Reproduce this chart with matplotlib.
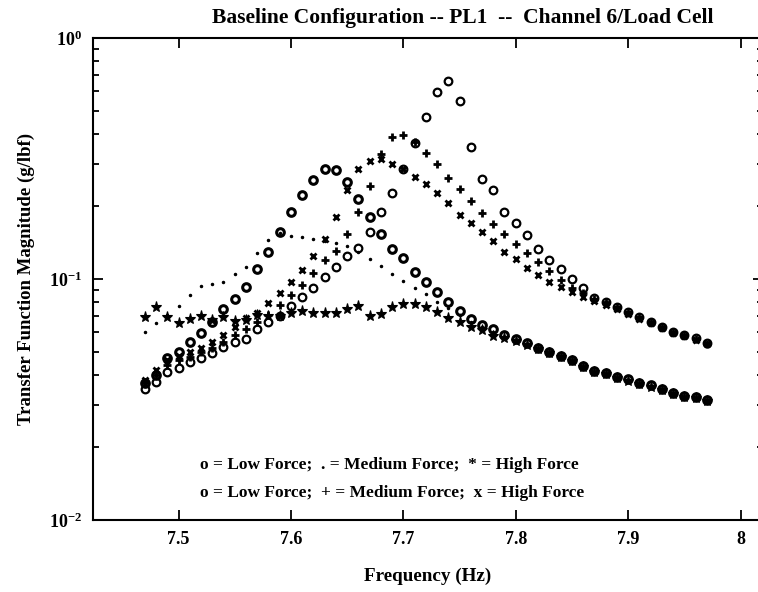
import matplotlib
matplotlib.use("Agg")
import matplotlib.pyplot as plt
from matplotlib.ticker import LogLocator, NullFormatter

plt.rcParams['font.family'] = ['Liberation Serif', 'DejaVu Serif']
plt.rcParams['mathtext.fontset'] = 'stix'

# frequency grid (Hz): one point every 0.01 Hz
freq = [7.47, 7.48, 7.49, 7.50, 7.51, 7.52, 7.53, 7.54, 7.55, 7.56,
        7.57, 7.58, 7.59, 7.60, 7.61, 7.62, 7.63, 7.64, 7.65, 7.66,
        7.67, 7.68, 7.69, 7.70, 7.71, 7.72, 7.73, 7.74, 7.75, 7.76,
        7.77, 7.78, 7.79, 7.80, 7.81, 7.82, 7.83, 7.84, 7.85, 7.86,
        7.87, 7.88, 7.89, 7.90, 7.91, 7.92, 7.93, 7.94, 7.95, 7.96, 7.97]

# first run:  o = low, . = medium, * = high
low_1 = [0.037, 0.040, 0.0469, 0.0499, 0.0546, 0.0599, 0.0665, 0.0749, 0.0826, 0.0929,
         0.1097, 0.1298, 0.157, 0.190, 0.223, 0.257, 0.286, 0.283, 0.253, 0.215,
         0.181, 0.154, 0.1336, 0.122, 0.107, 0.0968, 0.0881, 0.0805, 0.0738, 0.0682,
         0.0644, 0.0621, 0.0585, 0.0562, 0.054, 0.0518, 0.0497, 0.048, 0.046, 0.0436,
         0.0415, 0.0408, 0.0393, 0.0383, 0.0371, 0.0362, 0.035, 0.0338, 0.0327, 0.0323, 0.0316]
med_1 = [0.060, 0.0655, 0.071, 0.0773, 0.0859, 0.0935, 0.0953, 0.0975, 0.1047, 0.1125,
         0.1285, 0.145, 0.155, 0.151, 0.149, 0.147, 0.144, 0.141, 0.137, 0.129,
         0.121, 0.1133, 0.105, 0.0984, 0.092, 0.0864, 0.0805, 0.076, 0.071, 0.066,
         0.063, 0.060, 0.0575, 0.0555, 0.0535, 0.0514, 0.0493, 0.0477, 0.0456, 0.0431,
         0.0412, 0.0404, 0.039, 0.038, 0.0368, 0.0359, 0.0348, 0.0335, 0.0324, 0.0321, 0.0314]
high_1 = [0.0695, 0.0767, 0.0693, 0.0659, 0.068, 0.0702, 0.0676, 0.0695, 0.0671, 0.0676,
          0.071, 0.070, 0.070, 0.072, 0.0737, 0.0725, 0.0725, 0.0725, 0.0749, 0.0773,
          0.0702, 0.0713, 0.0763, 0.0787, 0.0787, 0.0767, 0.0731, 0.069, 0.0665, 0.0634,
          0.0614, 0.058, 0.057, 0.0553, 0.0533, 0.0512, 0.0492, 0.0476, 0.0455, 0.043,
          0.0411, 0.0402, 0.0389, 0.0379, 0.0367, 0.0358, 0.0347, 0.0334, 0.0323, 0.032, 0.0313]

# second run:  o = low, + = medium, x = high
low_2 = [0.035, 0.0375, 0.0412, 0.0426, 0.0454, 0.0469, 0.0492, 0.0524, 0.0546, 0.0564,
         0.0618, 0.0665, 0.070, 0.077, 0.0845, 0.092, 0.1016, 0.1125, 0.1245, 0.135,
         0.156, 0.189, 0.227, 0.285, 0.366, 0.471, 0.596, 0.660, 0.546, 0.352,
         0.260, 0.234, 0.190, 0.170, 0.152, 0.133, 0.120, 0.110, 0.100, 0.0915,
         0.0836, 0.0805, 0.0767, 0.0731, 0.0698, 0.0665, 0.0634, 0.0604, 0.0586, 0.0567, 0.054]
med_2 = [0.037, 0.040, 0.044, 0.046, 0.0476, 0.050, 0.0516, 0.055, 0.0586, 0.0618,
         0.066, 0.0709, 0.0782, 0.086, 0.0947, 0.1057, 0.120, 0.131, 0.154, 0.190,
         0.244, 0.330, 0.389, 0.396, 0.370, 0.334, 0.299, 0.263, 0.236, 0.211,
         0.188, 0.169, 0.153, 0.1397, 0.1285, 0.1178, 0.108, 0.099, 0.092, 0.0875,
         0.083, 0.080, 0.0765, 0.073, 0.0695, 0.0665, 0.0632, 0.0602, 0.0584, 0.0565, 0.0538]
high_2 = [0.038, 0.042, 0.046, 0.048, 0.050, 0.0516, 0.055, 0.0586, 0.0634, 0.0687,
          0.072, 0.0793, 0.0877, 0.0975, 0.109, 0.1245, 0.147, 0.181, 0.234, 0.285,
          0.309, 0.316, 0.301, 0.285, 0.266, 0.247, 0.227, 0.206, 0.184, 0.170,
          0.156, 0.144, 0.130, 0.121, 0.111, 0.104, 0.0975, 0.0924, 0.0886, 0.084,
          0.081, 0.078, 0.075, 0.0718, 0.0685, 0.0655, 0.0625, 0.0598, 0.058, 0.056, 0.0535]

legend_lines = ["o = Low Force;  . = Medium Force;  * = High Force",
                "o = Low Force;  + = Medium Force;  x = High Force"]

fig = plt.figure(figsize=(7.58, 5.92), dpi=100)
ax = fig.add_axes([93 / 758, 72 / 592, 670 / 758, 482 / 592])

ax.plot(freq, low_1, 'o', color='k', mfc='none', mew=2.2, ms=5.5)
ax.plot(freq, med_1, '.', color='k', ms=3)
ax.plot(freq, high_1, '*', color='k', ms=8, mew=0.8)
ax.plot(freq, low_2, 'o', color='k', mfc='none', mew=1.6, ms=5.5)
ax.plot(freq, med_2, '+', color='k', ms=6, mew=2)
ax.plot(freq, high_2, 'x', color='k', ms=4.5, mew=2)

ax.set_yscale('log')
ax.set_ylim(0.01, 1)
ax.set_xlim(7.4239, 8.02)
ax.set_xticks([7.5, 7.6, 7.7, 7.8, 7.9, 8.0])
ax.set_xticklabels(['7.5', '7.6', '7.7', '7.8', '7.9', '8'])
ax.yaxis.set_major_locator(LogLocator(base=10, numticks=5))
ax.yaxis.set_minor_locator(LogLocator(base=10, subs=range(2, 10), numticks=10))
ax.yaxis.set_minor_formatter(NullFormatter())

ax.tick_params(which='both', direction='in', top=True, right=True,
               labelsize=13, width=1.3)
ax.tick_params(which='major', length=7, pad=8)
ax.tick_params(which='minor', length=4)
for lab in ax.get_xticklabels() + ax.get_yticklabels():
    lab.set_fontweight('bold')
for sp in ax.spines.values():
    sp.set_linewidth(1.5)

fig.text(463 / 758, 1 - 18 / 592,
         "Baseline Configuration -- PL1  --  Channel 6/Load Cell",
         fontsize=15.5, fontweight='bold', ha='center', va='center')
ax.set_xlabel("Frequency (Hz)", fontsize=13.8, fontweight='bold', labelpad=14)
ax.set_ylabel("Transfer Function Magnitude (g/lbf)", fontsize=13.5,
              fontweight='bold', labelpad=10)

ax.text(0.16, 0.115, legend_lines[0], transform=ax.transAxes,
        fontsize=12.5, fontweight='bold', va='center')
ax.text(0.16, 0.057, legend_lines[1], transform=ax.transAxes,
        fontsize=12.5, fontweight='bold', va='center')

fig.savefig("out.png", dpi=100)
